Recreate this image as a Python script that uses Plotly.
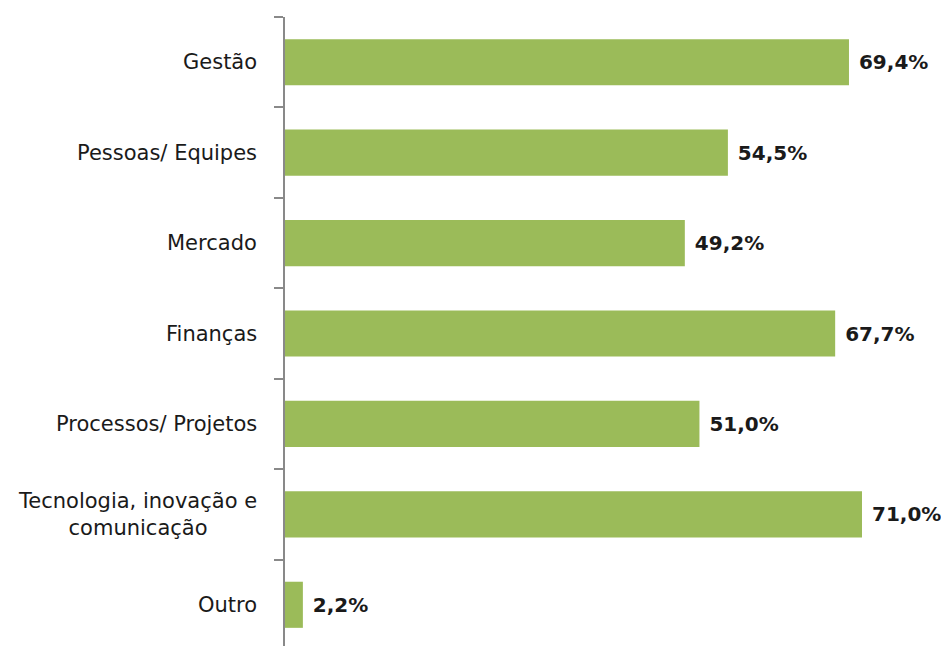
import plotly.graph_objects as go

categories = ["Gestão", "Pessoas/ Equipes", "Mercado", "Finanças",
              "Processos/ Projetos", "Tecnologia, inovação e<br>comunicação", "Outro"]
values = [69.4, 54.5, 49.2, 67.7, 51.0, 71.0, 2.2]
value_labels = [" " + f"{v:.1f}".replace(".", ",") + "%" for v in values]

fig = go.Figure()
fig.add_trace(go.Bar(
    y=categories, x=values, orientation="h",
    marker=dict(color="#9BBB59", line=dict(color="#9BBB59", width=0)),
    text=value_labels, textposition="outside", cliponaxis=False,
    textfont=dict(family="DejaVu Sans", size=20, color="#1a1a1a"),
    texttemplate="<b>%{text}</b>",
    width=0.51,
))

annotations = []
for c in categories:
    annotations.append(dict(
        x=0, xref="paper", y=c, yref="y", text=c, showarrow=False,
        xanchor="right", xshift=-26, align="center",
        font=dict(family="DejaVu Sans", size=21, color="#1a1a1a"),
    ))

fig.update_layout(
    width=941, height=642,
    margin=dict(l=277, r=9, t=9, b=0, autoexpand=False),
    plot_bgcolor="white", paper_bgcolor="white",
    showlegend=False,
    annotations=annotations,
    xaxis=dict(range=[0, 80.6], visible=False, fixedrange=True),
    yaxis=dict(
        autorange="reversed", type="category",
        showticklabels=False, showline=True, linecolor="#898989", linewidth=1.5,
        ticks="outside", tickson="boundaries", ticklen=9, tickcolor="#898989",
        tickwidth=1.5, showgrid=False, zeroline=False,
    ),
)

fig.write_html("out.html", post_script="document.body.style.overflow='hidden';")
